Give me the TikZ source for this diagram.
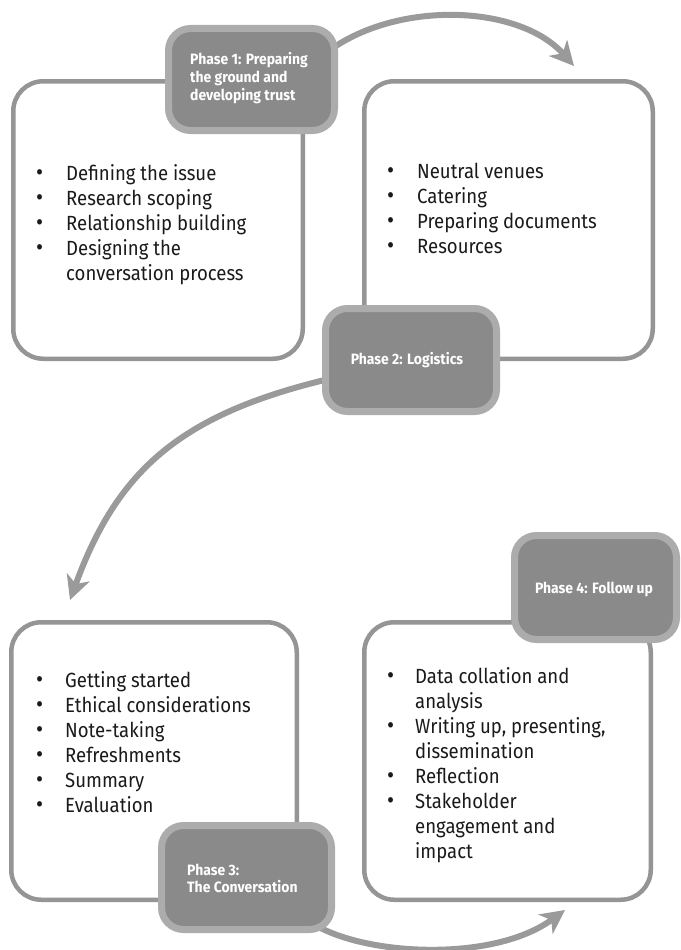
\documentclass[tikz,border=0pt]{standalone}
\usepackage{fontspec}
\setmainfont{Fira Sans}[FakeStretch=0.905]
\newfontfamily\badgefam{Fira Sans}[FakeStretch=0.93]
\usetikzlibrary{arrows.meta}
\definecolor{boxline}{HTML}{959595}
\definecolor{badgefill}{HTML}{8A8A8A}
\definecolor{badgerim}{HTML}{ACACAC}
\definecolor{arrowgray}{HTML}{9A9A9A}
\definecolor{ink}{HTML}{1A1A1A}
\newcommand\listfont{\fontsize{20.5}{25}\selectfont}
\newcommand\badgefont{\badgefam\fontsize{15}{18}\selectfont\bfseries}
\newcommand\bul{{\fontsize{24}{25}\selectfont\textbullet}}
\begin{document}
\begin{tikzpicture}[x=1pt,y=-1pt,
  box/.style={draw=boxline, line width=4.5pt, rounded corners=30pt, fill=white, inner sep=0pt},
  badge/.style={draw=badgerim, line width=7pt, fill=badgefill, rounded corners=22pt, inner sep=0pt},
  badgetext/.style={text=white, font=\badgefont, inner sep=0pt, align=left},
  itemlist/.style={text=ink, font=\listfont, inner sep=0pt, anchor=north west},
  flow/.style={draw=arrowgray, line width=6pt, -{Stealth[length=24pt, width=24pt, inset=7pt]}}
]
\useasboundingbox (0,0) rectangle (680,950);
\fill[white] (0,0) rectangle (680,950);

% connector end points
\coordinate (a1s) at (330,50);
\coordinate (a1e) at (574,66);
\coordinate (a2s) at (333,378);
\coordinate (a2e) at (70,600);
\coordinate (a3s) at (305,918);
\coordinate (a3e) at (565,910);

\draw[flow] (a1s) .. controls (400,0) and (520,5) .. (a1e);
\draw[flow] (a2s) .. controls (183,413) and (118,468) .. (a2e);
\draw[flow] (a3s) .. controls (350,955) and (490,965) .. (a3e);

% boxes
\node[box, minimum width=289.5pt, minimum height=277.5pt] (box1) at (158,220) {};
\node[box, minimum width=288.5pt, minimum height=277.5pt] (box2) at (508.5,220) {};
\node[box, minimum width=285.5pt, minimum height=277.5pt] (box3) at (154,761) {};
\node[box, minimum width=286.5pt, minimum height=277.5pt] (box4) at (507.5,761) {};

% lists
\node[itemlist] (list1) at (36,163) {\begin{tabular}{@{}p{30pt}@{}l@{}}
\bul & Defining the issue\\
\bul & Research scoping\\
\bul & Relationship building\\
\bul & Designing the\\
 & conversation process
\end{tabular}};
\node[itemlist] (list2) at (387,161) {\begin{tabular}{@{}p{30pt}@{}l@{}}
\bul & Neutral venues\\
\bul & Catering\\
\bul & Preparing documents\\
\bul & Resources
\end{tabular}};
\node[itemlist] (list3) at (36,669.5) {\begin{tabular}{@{}p{29pt}@{}l@{}}
\bul & Getting started\\
\bul & Ethical considerations\\
\bul & Note-taking\\
\bul & Refreshments\\
\bul & Summary\\
\bul & Evaluation
\end{tabular}};
\node[itemlist] (list4) at (387,665.5) {\begin{tabular}{@{}p{28pt}@{}l@{}}
\bul & Data collation and\\
 & analysis\\
\bul & Writing up, presenting,\\
 & dissemination\\
\bul & Reflection\\
\bul & Stakeholder\\
 & engagement and\\
 & impact
\end{tabular}};

% badges
\node[badge, minimum width=166pt, minimum height=102pt] (badge1) at (251.5,79.5) {};
\node[badge, minimum width=171pt, minimum height=103pt] (badge2) at (411,360) {};
\node[badge, minimum width=170pt, minimum height=104pt] (badge3) at (246.5,877.5) {};
\node[badge, minimum width=162pt, minimum height=104pt] (badge4) at (595.5,587.5) {};

\node[badgetext, anchor=base west] (p1a) at (190,64) {Phase 1: Preparing};
\node[badgetext, anchor=base west] (p1b) at (190,82) {the ground and};
\node[badgetext, anchor=base west] (p1c) at (190,100) {developing trust};
\node[badgetext, anchor=base] (p2) at (407,364) {Phase 2: Logistics};
\node[badgetext, anchor=base west] (p3a) at (187,875) {Phase 3:};
\node[badgetext, anchor=base west] (p3b) at (187,892) {The Conversation};
\node[badgetext, anchor=base] (p4) at (594,593) {Phase 4: Follow up};
\end{tikzpicture}
\end{document}
